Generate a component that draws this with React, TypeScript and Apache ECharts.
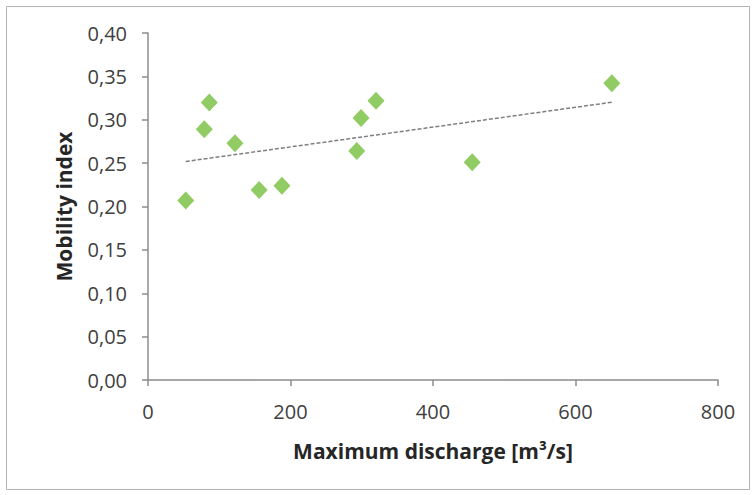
import React, { useEffect, useRef } from "react";
import * as echarts from "echarts";

const discharge = [53, 79, 86, 122, 156, 188, 293, 299, 320, 455, 651];
const mobility = [0.207, 0.289, 0.32, 0.273, 0.219, 0.224, 0.264, 0.302, 0.322, 0.251, 0.342];
const xTicks = [0, 200, 400, 600, 800];
const yTicks = [0, 0.05, 0.1, 0.15, 0.2, 0.25, 0.3, 0.35, 0.4];
const xTitle = "Maximum discharge [m³/s]";
const yTitle = "Mobility index";

function linearFit(xs: number[], ys: number[]) {
  const n = xs.length;
  const mx = xs.reduce((a, b) => a + b, 0) / n;
  const my = ys.reduce((a, b) => a + b, 0) / n;
  let sxy = 0;
  let sxx = 0;
  for (let i = 0; i < n; i++) {
    sxy += (xs[i] - mx) * (ys[i] - my);
    sxx += (xs[i] - mx) * (xs[i] - mx);
  }
  const slope = sxy / sxx;
  return { slope, intercept: my - slope * mx };
}

export default function App() {
  const ref = useRef<HTMLDivElement>(null);
  useEffect(() => {
    if (!ref.current) return;
    const chart = echarts.init(ref.current, null, { renderer: "svg" });
    const fit = linearFit(discharge, mobility);
    const xMin = Math.min(...discharge);
    const xMax = Math.max(...discharge);
    const trend = [
      [xMin, fit.intercept + fit.slope * xMin],
      [xMax, fit.intercept + fit.slope * xMax],
    ];
    const font = "Open Sans";
    const axisColor = "#8c8c8c";
    chart.setOption({
      animation: false,
      backgroundColor: "#ffffff",
      textStyle: { fontFamily: font },
      graphic: [
        {
          type: "rect",
          shape: { x: 6.5, y: 6.5, width: 743, height: 483 },
          style: { fill: "none", stroke: "#b4b4b4", lineWidth: 1 },
          silent: true,
        },
      ],
      grid: {
        left: 148,
        right: 37,
        top: 33,
        bottom: 115,
        containLabel: false,
        outerBoundsMode: "none",
      },
      xAxis: {
        type: "value",
        min: xTicks[0],
        max: xTicks[xTicks.length - 1],
        interval: xTicks[1] - xTicks[0],
        name: xTitle,
        nameLocation: "middle",
        nameGap: 60,
        nameTextStyle: { fontFamily: font, fontSize: 21, fontWeight: "bold", color: "#262626" },
        axisLine: { show: true, lineStyle: { color: axisColor, width: 1.5 } },
        axisTick: { show: true, inside: false, length: 6, lineStyle: { color: axisColor, width: 1.5 } },
        axisLabel: { margin: 21, fontSize: 20, color: "#404040", fontFamily: font },
        splitLine: { show: false },
      },
      yAxis: {
        type: "value",
        min: yTicks[0],
        max: yTicks[yTicks.length - 1],
        interval: yTicks[1] - yTicks[0],
        name: yTitle,
        nameLocation: "middle",
        nameGap: 74,
        nameRotate: 90,
        nameTextStyle: { fontFamily: font, fontSize: 21, fontWeight: "bold", color: "#262626" },
        axisLine: { show: true, lineStyle: { color: axisColor, width: 1.5 } },
        axisTick: { show: true, inside: false, length: 6, lineStyle: { color: axisColor, width: 1.5 } },
        axisLabel: {
          margin: 21,
          fontSize: 20,
          color: "#404040",
          fontFamily: font,
          formatter: (v: number) => v.toFixed(2).replace(".", ","),
        },
        splitLine: { show: false },
      },
      series: [
        {
          type: "line",
          data: trend,
          symbol: "none",
          silent: true,
          lineStyle: { color: "#7f7f7f", width: 1.5, type: [4, 2] },
          z: 1,
        },
        {
          type: "scatter",
          data: discharge.map((x, i) => [x, mobility[i]]),
          symbol: "diamond",
          symbolSize: [17, 18],
          itemStyle: { color: "#74be3c" },
          z: 2,
        },
      ],
    });
    return () => chart.dispose();
  }, []);
  return (
    <div
      ref={ref}
      style={{ position: "fixed", left: 0, top: 0, width: 755, height: 495 }}
    />
  );
}
